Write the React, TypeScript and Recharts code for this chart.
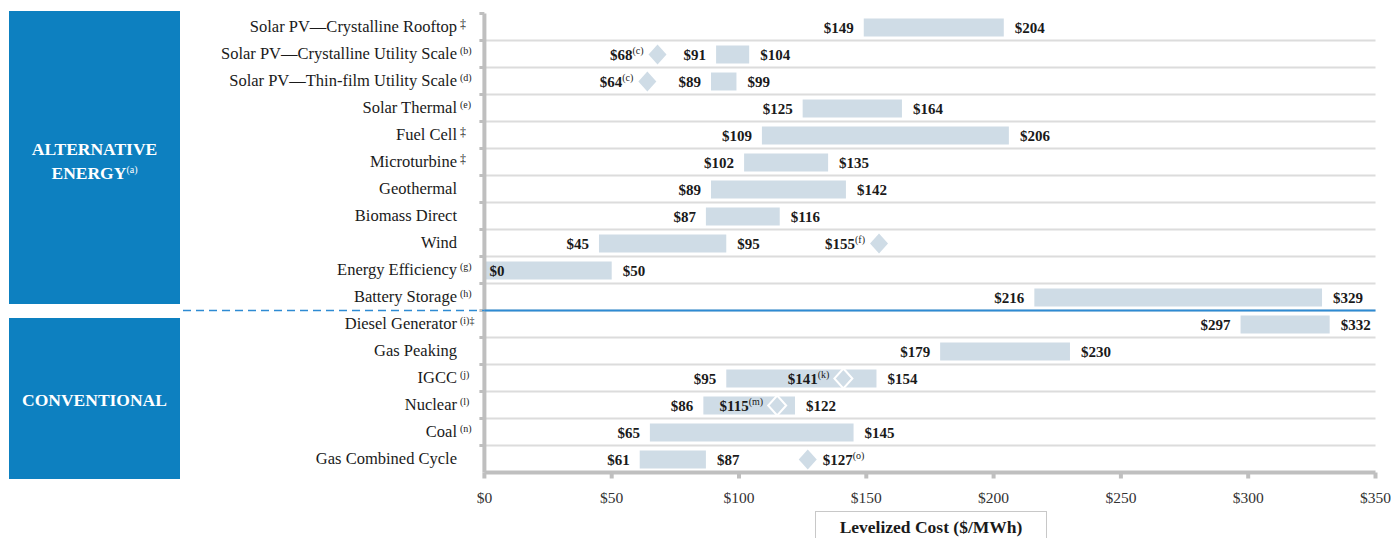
import React from "react";
import {
  ComposedChart,
  Bar,
  XAxis,
  YAxis,
  CartesianGrid,
  LabelList,
} from "recharts";

// Levelized cost of energy ranges ($/MWh), one row per technology

const categories = [
  "Solar PV—Crystalline Rooftop",
  "Solar PV—Crystalline Utility Scale",
  "Solar PV—Thin-film Utility Scale",
  "Solar Thermal",
  "Fuel Cell",
  "Microturbine",
  "Geothermal",
  "Biomass Direct",
  "Wind",
  "Energy Efficiency",
  "Battery Storage",
  "Diesel Generator",
  "Gas Peaking",
  "IGCC",
  "Nuclear",
  "Coal",
  "Gas Combined Cycle",
];
const notes = ["‡", "(b)", "(d)", "(e)", "‡", "‡", "", "", "", "(g)", "(h)", "(i)‡", "", "(j)", "(l)", "(n)", ""];
const lowCost = [149, 91, 89, 125, 109, 102, 89, 87, 45, 0, 216, 297, 179, 95, 86, 65, 61];
const highCost = [204, 104, 99, 164, 206, 135, 142, 116, 95, 50, 329, 332, 230, 154, 122, 145, 87];
const markerCost: (number | null)[] = [null, 68, 64, null, null, null, null, null, 155, null, null, null, null, 141, 115, null, 127];
const markerNotes = ["", "(c)", "(c)", "", "", "", "", "", "(f)", "", "", "", "", "(k)", "(m)", "", "(o)"];
const xTicks = [0, 50, 100, 150, 200, 250, 300, 350];

const data = categories.map((name, i) => ({
  name,
  row: i,
  range: [lowCost[i], highCost[i]],
  marker: markerCost[i] == null ? null : [markerCost[i], markerCost[i]],
}));

const W = 1391;
const H = 538;
const TOP = 13.5;
const BOTTOM = 472.5;
const LEFT = 484.4;
const RIGHT = 1375.5;
const ROW_H = (BOTTOM - TOP) / categories.length;

const SERIF = "'Liberation Serif', 'DejaVu Serif', serif";
const BAR_COLOR = "#cfdce6";
const FRAME = "#bfbfbf";
const BLUE = "#0d80c0";
const LINE_BLUE = "#2e8bd3";
const TEXT = "#1a1a1a";

const labelRight = new Set(["Gas Combined Cycle"]);

const CategoryTick = (props: any) => {
  const { y, payload, index } = props;
  const note = notes[index];
  const top = y - ROW_H / 2;
  const dagger = note.startsWith("‡");
  return (
    <g>
      <line x1={LEFT - 5} x2={LEFT} y1={top} y2={top} stroke={FRAME} strokeWidth={3} />
      {index === 11 && (
        <g>
          <line x1={183} x2={LEFT} y1={top} y2={top} stroke={LINE_BLUE} strokeWidth={1.5} strokeDasharray="8 5" />
          <line x1={LEFT} x2={RIGHT} y1={top} y2={top} stroke={LINE_BLUE} strokeWidth={2} />
        </g>
      )}
      <text x={457} y={y + 5} textAnchor="end" fontFamily={SERIF} fontSize={16.5} fill={TEXT}>
        {payload.value}
      </text>
      {note && (
        <text x={460} y={y + (dagger ? 1 : 0)} textAnchor="start" fontFamily={SERIF} fontSize={dagger ? 12 : 10} fill={TEXT}>
          {note}
        </text>
      )}
    </g>
  );
};

const RangeLabels = (props: any) => {
  const { x, y, width, height, index } = props;
  const cy = y + height / 2 + 5;
  const low = lowCost[index];
  return (
    <g fontFamily={SERIF} fontSize={15} fontWeight="bold" fill={TEXT}>
      {low === 0 ? (
        <text x={x + 5} y={cy} textAnchor="start">${low}</text>
      ) : (
        <text x={x - 10} y={cy} textAnchor="end">${low}</text>
      )}
      <text x={x + width + 11} y={cy} textAnchor="start">${highCost[index]}</text>
    </g>
  );
};

const Diamond = (props: any) => {
  const { x, y, height, payload } = props;
  if (!payload || payload.marker == null || x == null || isNaN(x)) return null;
  const row = payload.row;
  const m = payload.marker[0];
  const cy = y + height / 2;
  const inside = m >= lowCost[row] && m <= highCost[row];
  const pts = `${x},${cy - 10} ${x + 9},${cy} ${x},${cy + 10} ${x - 9},${cy}`;
  const right = labelRight.has(payload.name);
  return (
    <g>
      <polygon
        points={pts}
        fill={inside ? "none" : BAR_COLOR}
        stroke={inside ? "#ffffff" : "none"}
        strokeWidth={2}
      />
      <text
        x={right ? x + 15 : x - 14}
        y={cy + 5}
        textAnchor={right ? "start" : "end"}
        fontFamily={SERIF}
        fontSize={15}
        fontWeight="bold"
        fill={TEXT}
      >
        ${m}
        <tspan fontSize={10} fontWeight="normal" dy={-6}>
          {markerNotes[row]}
        </tspan>
      </text>
    </g>
  );
};

const sectionBox: React.CSSProperties = {
  position: "absolute",
  left: 9,
  width: 171,
  background: BLUE,
  color: "#ffffff",
  fontFamily: SERIF,
  fontWeight: "bold",
  fontSize: 17.5,
  display: "flex",
  alignItems: "center",
  justifyContent: "center",
  textAlign: "center",
  lineHeight: "24px",
  boxSizing: "border-box",
};

const App = () => {
  return (
    <div style={{ position: "absolute", left: 0, top: 0, width: W, height: H, background: "#ffffff", overflow: "hidden" }}>
      <div style={{ ...sectionBox, top: 11, height: 293, paddingTop: 9 }}>
        <div>
          ALTERNATIVE
          <br />
          ENERGY
          <span style={{ fontSize: 10, fontWeight: "normal", position: "relative", top: -6 }}>(a)</span>
        </div>
      </div>
      <div style={{ ...sectionBox, top: 318, height: 161, paddingTop: 2 }}>CONVENTIONAL</div>
      <div style={{ position: "absolute", left: 0, top: 0 }}>
        <ComposedChart
          width={W}
          height={H}
          data={data}
          layout="vertical"
          barGap={-18}
          margin={{ top: TOP, right: W - RIGHT, bottom: H - BOTTOM - 30, left: 0 }}
        >
          <CartesianGrid
            vertical={false}
            stroke="#dcdcdc"
            strokeWidth={2}
            horizontalCoordinatesGenerator={({ offset }: any) =>
              categories.slice(1).map((_, i) => offset.top + ((i + 1) * offset.height) / categories.length)
            }
          />
          <XAxis
            type="number"
            domain={[0, 350]}
            ticks={xTicks}
            tickFormatter={(v: number) => `$${v}`}
            height={30}
            tickSize={6}
            tickMargin={13}
            axisLine={{ stroke: FRAME, strokeWidth: 4 }}
            tickLine={{ stroke: FRAME, strokeWidth: 4 }}
            tick={{ fontFamily: SERIF, fontSize: 15.5, fill: "#333333" }}
          />
          <XAxis
            xAxisId="top"
            orientation="top"
            type="number"
            domain={[0, 350]}
            height={0}
            tick={false}
            tickLine={false}
            axisLine={{ stroke: FRAME, strokeWidth: 4 }}
          />
          <YAxis
            type="category"
            dataKey="name"
            width={LEFT}
            axisLine={{ stroke: FRAME, strokeWidth: 4 }}
            tickLine={false}
            tick={<CategoryTick />}
            interval={0}
          />
          <YAxis
            yAxisId="right"
            orientation="right"
            type="category"
            dataKey="name"
            width={0}
            tick={false}
            tickLine={false}
            axisLine={{ stroke: FRAME, strokeWidth: 4 }}
          />
          <Bar dataKey="range" fill={BAR_COLOR} barSize={18} isAnimationActive={false}>
            <LabelList dataKey="range" content={<RangeLabels />} />
          </Bar>
          <Bar dataKey="marker" barSize={18} shape={<Diamond />} isAnimationActive={false} />
        </ComposedChart>
      </div>
      <div
        style={{
          position: "absolute",
          left: 815,
          top: 511,
          width: 232,
          height: 40,
          border: "1.5px solid #c8c8c8",
          boxSizing: "border-box",
          fontFamily: SERIF,
          fontWeight: "bold",
          fontSize: 17.5,
          color: TEXT,
          textAlign: "center",
          paddingTop: 5,
        }}
      >
        Levelized Cost ($/MWh)
      </div>
    </div>
  );
};

export default App;
